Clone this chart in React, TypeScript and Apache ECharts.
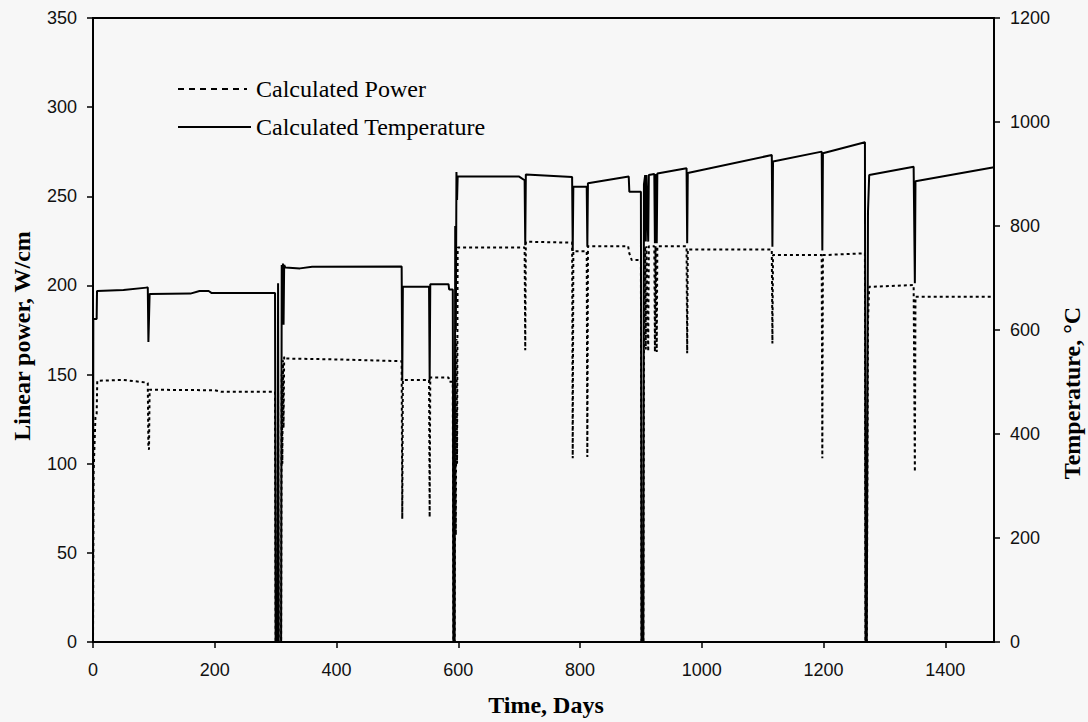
import React, { useEffect, useRef } from "react";
import * as echarts from "echarts";

// Time (days) vs calculated linear power (W/cm)
const powerData: [number, number][] = [
  [0, 0], [1, 95], [4, 126], [6, 128], [7, 146.5], [50, 147], [88, 145.5], [90, 145.3],
  [91, 108.5], [92, 108], [93, 141.5], [200, 141.2], [210, 140.3], [299, 140.3],
  [300, 0], [303, 0], [304, 140], [305, 0], [309, 0], [310, 150], [311, 100], [312, 158],
  [313, 120], [314, 160], [316, 159], [400, 158.5], [507, 157.5],
  [508, 69], [509, 146.9], [552, 146.9], [553, 70], [554, 148.4], [584, 148.4],
  [585, 146], [591, 146], [592, 0], [594, 0], [595, 130], [596, 60], [597, 170],
  [598, 100], [599, 221.3], [709, 221.3], [710, 163.7], [711, 224.5], [787, 224],
  [788, 103], [789, 219.2], [811, 219.2], [812, 103.8], [813, 222], [879, 222],
  [881, 218], [885, 214.2], [900, 214.2], [901, 0], [904, 0], [905, 160], [907, 222],
  [908, 164], [909, 222], [912, 163], [913, 222], [922, 222], [923, 162.7], [924, 222],
  [926, 162.7], [927, 222], [975, 222], [976, 162], [977, 220.2], [1115, 220.2],
  [1116, 167.4], [1117, 217], [1197, 217], [1198, 103], [1199, 217], [1268, 218],
  [1269, 0], [1271, 0], [1273, 180], [1275, 199.2], [1348, 200.2], [1350, 95.4],
  [1351, 193.6], [1480, 193.6],
];

// Time (days) vs calculated temperature (°C)
const temperatureData: [number, number][] = [
  [0, 0], [0.5, 621], [6, 621], [6.6, 675], [50, 677], [88, 681.5], [90, 681.5],
  [91, 577], [92, 577], [93, 669], [160, 670], [175, 675], [190, 675], [195, 671],
  [299, 671], [300, 0], [303, 0], [304, 690], [305, 0], [309, 0], [310, 725],
  [311, 620], [312, 728], [313, 610], [314, 725], [316, 720], [340, 718.5],
  [360, 721.6], [507, 722], [508, 503], [509, 683], [552, 683], [553, 503], [554, 688],
  [584, 688], [585, 678], [591, 678], [592, 0], [594, 0], [595, 800], [596, 600],
  [597, 904], [598, 850], [599, 895], [700, 895], [709, 888], [710, 763], [711, 899],
  [787, 894], [788, 752], [789, 875.5], [811, 875.5], [812, 760], [813, 882],
  [880, 895], [881, 866], [900, 866], [901, 0], [904, 0], [905, 880], [907, 898],
  [908, 770], [909, 898], [912, 770], [913, 898], [922, 900], [923, 767], [924, 900],
  [926, 767], [927, 901], [975, 911], [976, 767], [977, 902], [1115, 936.5],
  [1116, 760], [1117, 924], [1197, 943], [1198, 753], [1199, 940], [1268, 961],
  [1269, 0], [1271, 0], [1273, 827], [1275, 898], [1348, 914], [1350, 690],
  [1351, 886], [1480, 913],
];

const legendNames = ["Calculated Power", "Calculated Temperature"];
const xAxisTitle = "Time, Days";
const leftAxisTitle = "Linear power, W/cm";
const rightAxisTitle = "Temperature, °C";

export default function App() {
  const ref = useRef<HTMLDivElement>(null);
  useEffect(() => {
    if (!ref.current) return;
    const chart = echarts.init(ref.current, undefined, { renderer: "svg" });
    const serif = "'Liberation Serif', 'Times New Roman', serif";
    const sans = "'Liberation Sans', Arial, sans-serif";
    const plain = (v: number) => String(v);
    const axisCommon = {
      axisLine: { show: true, lineStyle: { color: "#000", width: 2 } },
      axisTick: { show: true, length: 6, lineStyle: { color: "#000", width: 1.5 } },
      splitLine: { show: false },
    };
    const labelStyle = { color: "#111", fontFamily: sans, fontSize: 18, formatter: plain };
    chart.setOption({
      animation: false,
      backgroundColor: "#f7f7f7",
      grid: {
        left: 93, right: 94, top: 18, bottom: 80,
        show: true, borderColor: "#000", borderWidth: 2, backgroundColor: "transparent",
      },
      xAxis: {
        type: "value", min: 0, max: 1480, interval: 200,
        ...axisCommon,
        axisLabel: { ...labelStyle, margin: 19, showMaxLabel: false },
      },
      yAxis: [
        {
          type: "value", min: 0, max: 350, interval: 50, position: "left",
          ...axisCommon,
          axisLabel: { ...labelStyle, margin: 16 },
        },
        {
          type: "value", min: 0, max: 1200, interval: 200, position: "right",
          ...axisCommon,
          axisLabel: { ...labelStyle, margin: 16 },
        },
      ],
      series: [
        {
          name: legendNames[0], type: "line", data: powerData, yAxisIndex: 0,
          showSymbol: false, symbol: "none",
          lineStyle: { color: "#000", width: 2, type: [3, 3] },
        },
        {
          name: legendNames[1], type: "line", data: temperatureData, yAxisIndex: 1,
          showSymbol: false, symbol: "none",
          lineStyle: { color: "#000", width: 2 },
        },
      ],
      graphic: [
        { type: "line", shape: { x1: 178, y1: 89, x2: 247, y2: 89 }, style: { stroke: "#000", lineWidth: 2, lineDash: [6, 5] } },
        { type: "text", x: 256, y: 89, style: { text: legendNames[0], font: `24px ${serif}`, fill: "#000", textVerticalAlign: "middle" } },
        { type: "line", shape: { x1: 178, y1: 127, x2: 251, y2: 127 }, style: { stroke: "#000", lineWidth: 2 } },
        { type: "text", x: 256, y: 127, style: { text: legendNames[1], font: `24px ${serif}`, fill: "#000", textVerticalAlign: "middle" } },
        { type: "text", x: 546, y: 705, style: { text: xAxisTitle, font: `bold 24px ${serif}`, fill: "#000", textAlign: "center", textVerticalAlign: "middle" } },
        { type: "text", x: 22, y: 336, rotation: Math.PI / 2, style: { text: leftAxisTitle, font: `bold 24px ${serif}`, fill: "#000", textAlign: "center", textVerticalAlign: "middle" } },
        { type: "text", x: 1072, y: 393, rotation: Math.PI / 2, style: { text: rightAxisTitle, font: `bold 24px ${serif}`, fill: "#000", textAlign: "center", textVerticalAlign: "middle" } },
      ],
    });
    return () => chart.dispose();
  }, []);
  return (
    <div
      ref={ref}
      style={{ position: "fixed", left: 0, top: 0, width: 1088, height: 722, background: "#f7f7f7" }}
    />
  );
}
